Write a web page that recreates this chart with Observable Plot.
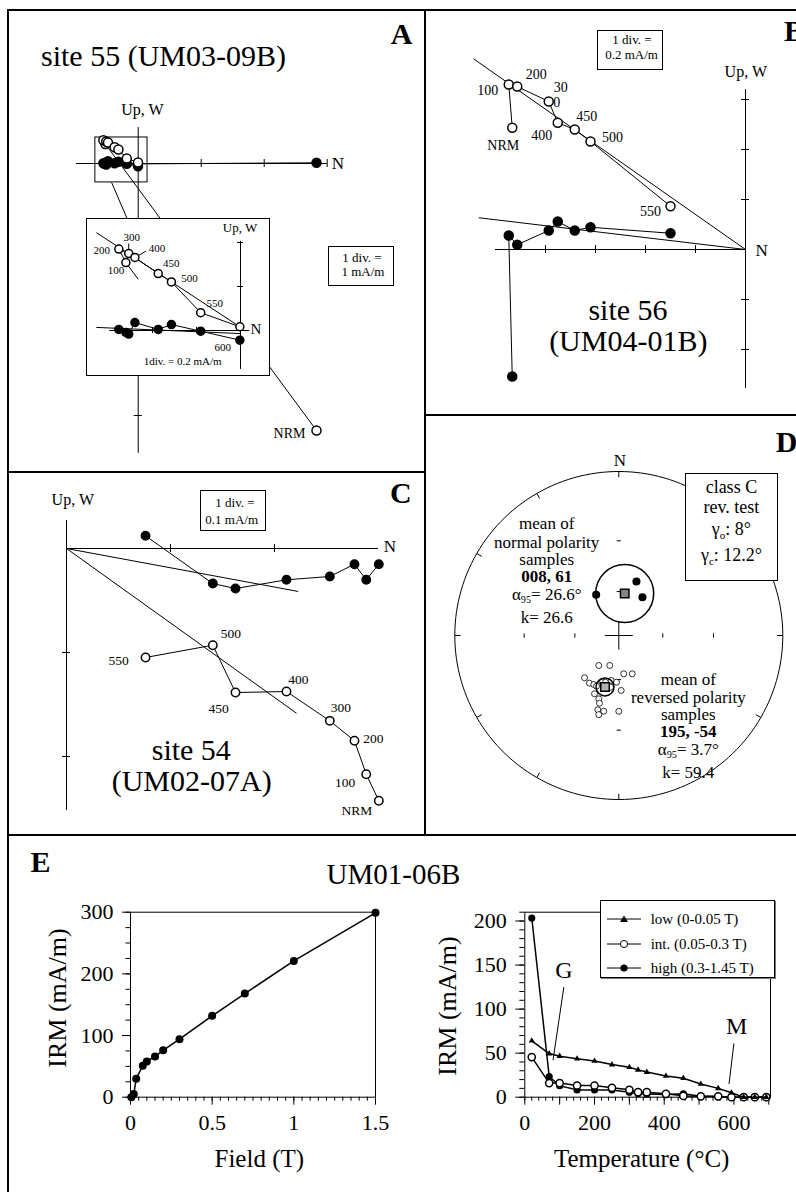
<!DOCTYPE html>
<html><head><meta charset="utf-8">
<script src="https://cdn.jsdelivr.net/npm/d3@7"></script>
<script src="https://cdn.jsdelivr.net/npm/@observablehq/plot@0.6"></script>
<style>
body{margin:0;background:#fff;}
#fig{position:relative;width:796px;height:1192px;overflow:hidden;background:#fff;font-family:"Liberation Serif","Times New Roman",serif;color:#000;}
.t{position:absolute;transform:translate(-50%,-50%);line-height:1;white-space:nowrap;font-family:"Liberation Serif",serif;}
.t sub{font-size:.6em;vertical-align:-.35em;line-height:0;}
.box{position:absolute;border:1px solid #000;background:#fff;box-sizing:border-box;}
.rule{position:absolute;background:#000;}
</style></head><body><div id="fig"></div><script>
// ================= DATA =================
// Panel A: site 55 (UM03-09B) - Zijderveld components in mA/m
const stepsA = ["NRM","100","200","300","400","450","500","550","600"];
const northA = [2.83,-0.521,-0.553,-0.508,-0.480,-0.374,-0.314,-0.181,-0.003];
const upA    = [-4.238,0.309,0.370,0.350,0.332,0.259,0.221,0.081,0.017];
const westA  = [0.011,-0.009,0.005,-0.016,0.036,0.005,0.027,-0.003,-0.044];
const fitUpA   = [[-0.655,0.445],[0,0.015]];
const fitWestA = [[-0.655,0.014],[0,-0.014]];
const nrmStubA = [[-0.521,0.309],[-0.465,0.233]];
const zoomWindowA = [[-0.68,0.413],[0.148,-0.30]];
const connectorA = [[-0.422,-0.302],[-0.17,-0.889]];

// Panel B: site 56 (UM04-01B)
const stepsB = ["NRM","100","200","300","400","450","500","550"];
const northB = [-0.933,-0.947,-0.913,-0.787,-0.751,-0.683,-0.620,-0.300];
const upB    = [0.487,0.660,0.652,0.592,0.507,0.480,0.432,0.173];
const westB  = [-0.508,0.056,0.019,0.076,0.112,0.076,0.089,0.065];
const fitUpB   = [[-1.088,0.763],[0,0]];
const fitWestB = [[-1.067,0.127],[0,0]];

// Panel C: site 54 (UM02-07A)
const stepsC = ["NRM","100","200","300","400","450","500","550"];
const northC = [0.3003,0.2882,0.2769,0.2532,0.2115,0.1625,0.1407,0.0760];
const upC    = [-0.2426,-0.2170,-0.1849,-0.1657,-0.1375,-0.1385,-0.0930,-0.1048];
const westC  = [-0.0151,-0.0301,-0.0151,-0.0269,-0.0301,-0.0385,-0.0337,0.0122];
const fitUpC   = [[0,0],[0.2212,-0.1584]];
const fitWestC = [[0,0],[0.2228,-0.0413]];

// Panel D: site mean directions (declination, inclination)
const decNormal = [330.9,18.1,31.7];
const incNormal = [58.3,51.8,59.3];
const decReversed = [213.7,196.7,172.6,160.7,219.0,211.6,207.0,203.7,199.6,195.9,189.6,182.8,177.5,202.6,197.5,195.9,195.8,194.2,191.2,180.0,192.8,189.1];
const incReversed = [-65.2,-68.4,-63.5,-62.2,-53.3,-52.3,-52.9,-52.7,-56.4,-57.0,-58.9,-58.2,-52.9,-47.9,-45.9,-43.5,-39.6,-37.1,-39.6,-40.4,-54.6,-54.6];
const meanNormal = {dec:8, inc:61, decText:"008", a95:26.6, k:26.6};
const meanReversed = {dec:195, inc:-54, decText:"195", a95:3.7, k:59.4};
const revTest = {cls:"C", gammaO:8, gammaC:12.2};

// Panel E: UM01-06B
const fieldT   = [0.005,0.02,0.035,0.075,0.1,0.15,0.2,0.3,0.5,0.7,1.0,1.5];
const irmField = [0,5,30,51,58,66,76,94,132,168,221,299];
const tempC   = [20,70,100,150,200,250,300,325,350,405,455,505,555,593,628,660,693];
const irmLow  = [64,49.5,46.6,43.6,41,37,34,31,28.5,24,21.6,15,10,5,0,0,0];
const irmInt  = [45.5,16,16,13.3,13.3,10.7,8.4,5.7,5.7,3.8,1.5,1,1,0,0,0,0];
const irmHigh = [203.4,23.5,13,8.3,8.3,8.3,5.7,3.8,3.5,3,3.8,1,0.5,0,0,0,0];
const seriesNames = ["low (0-0.05 T)","int. (0.05-0.3 T)","high (0.3-1.45 T)"];
const annotText = ["G","M"];
const annotT = [112,608];
const annotV = [144,80];
const leaders = [[112,125,81,42],[600,61,586,15]];

// ================= LAYOUT HELPERS =================
const serif = '"Liberation Serif","Times New Roman",serif';
const fig = document.getElementById("fig");
function put(node,left,top){node.style.position="absolute";node.style.left=left+"px";node.style.top=top+"px";fig.appendChild(node);return node;}
function txt(html,cx,cy,size,extra){const d=document.createElement("div");d.className="t";d.style.left=cx+"px";d.style.top=cy+"px";d.style.fontSize=size+"px";if(extra)d.style.cssText+=extra;d.innerHTML=html;fig.appendChild(d);return d;}
function boxDiv(x1,y1,x2,y2){const d=document.createElement("div");d.className="box";Object.assign(d.style,{left:x1+"px",top:y1+"px",width:(x2-x1)+"px",height:(y2-y1)+"px"});fig.appendChild(d);return d;}
function rule(x,y,w,h){const d=document.createElement("div");d.className="rule";Object.assign(d.style,{left:x+"px",top:y+"px",width:w+"px",height:h+"px"});fig.appendChild(d);}
const baseStyle = {background:"none",fontFamily:serif,overflow:"visible",color:"#000"};

// Zijderveld diagram
function zij(o){
  const all = o.steps.map((s,i)=>({step:s,n:o.north[i],up:o.up[i],w:o.west[i]}));
  const rows = all.filter(r=>!(o.omit||[]).includes(r.step));
  const by = new Map(all.map(r=>[r.step,r]));
  const t = o.tick/o.s;
  const lab = (o.labels||[]).map(([st,c,dx,dy,tx])=>{const r=by.get(st);return {x:r.n+dx/o.s,y:r[c]-dy/o.s,text:tx??st};});
  const lead = (o.leaders||[]).map(([st,c,a,b,e,f])=>{const r=by.get(st);return [[r.n+a/o.s,r[c]-b/o.s],[r.n+e/o.s,r[c]-f/o.s]];});
  const seg = {x1:d=>d[0][0],y1:d=>d[0][1],x2:d=>d[1][0],y2:d=>d[1][1],stroke:"#000",strokeWidth:1};
  const marks = [
    Plot.ruleY([0],{x1:()=>o.axisN[0],x2:()=>o.axisN[1],stroke:"#000"}),
    Plot.ruleX([0],{y1:()=>o.axisV[0],y2:()=>o.axisV[1],stroke:"#000"}),
    Plot.ruleX(o.ticksN,{x:d=>d,y1:()=>-t,y2:()=>t,stroke:"#000"}),
    Plot.ruleY(o.ticksV,{y:d=>d,x1:()=>-t,x2:()=>t,stroke:"#000"}),
    ...(o.extra||[]),
    Plot.link(o.fits,seg),
    Plot.link(lead,seg),
    Plot.line(rows,{x:"n",y:"w",stroke:"#000",strokeWidth:1}),
    Plot.line(rows,{x:"n",y:"up",stroke:"#000",strokeWidth:1}),
    Plot.dot(rows,{x:"n",y:"w",r:o.r,fill:"#000",stroke:"#000"}),
    Plot.dot(rows,{x:"n",y:"up",r:o.r,fill:"#fff",stroke:"#000"}),
    Plot.text(lab,{x:"x",y:"y",text:"text",fontSize:o.fontSize,fill:"#000",fontFamily:serif})
  ];
  return Plot.plot({width:o.w,height:o.h,margin:0,
    x:{domain:[-o.ox/o.s,(o.w-o.ox)/o.s],axis:null},
    y:{domain:[(o.oy-o.h)/o.s,o.oy/o.s],axis:null},
    style:baseStyle,marks});
}
const segOpt = {x1:d=>d[0][0],y1:d=>d[0][1],x2:d=>d[1][0],y2:d=>d[1][1],stroke:"#000"};

// ================= PANEL A =================
const aMain = zij({w:425,h:472,ox:137.7,oy:163,s:63,tick:4,r:4.5,fontSize:14,
  steps:stepsA,north:northA,up:upA,west:westA,fits:[],
  axisN:[-0.98,3.0],axisV:[-4.6,0.57],ticksN:[1,2,3],ticksV:[-1,-2,-3,-4],
  labels:[["NRM","up",-27,3]],
  extra:[
    Plot.rect([zoomWindowA],{x1:d=>d[0][0],x2:d=>d[1][0],y1:d=>d[1][1],y2:d=>d[0][1],fill:"none",stroke:"#000"}),
    Plot.link([connectorA],segOpt)
  ]});
put(aMain,0,0);

const insetDiv = document.createElement("div");
Object.assign(insetDiv.style,{width:"182px",height:"156px",background:"#fff",outline:"1.5px solid #000",overflow:"hidden"});
put(insetDiv,87,219);
const aInset = zij({w:182,h:156,ox:153,oy:111,s:220,tick:3,r:4,fontSize:11,
  steps:stepsA,north:northA,up:upA,west:westA,omit:["NRM"],fits:[fitUpA,fitWestA],
  axisN:[-0.594,0.042],axisV:[-0.177,0.405],ticksN:[-0.4,-0.2],ticksV:[0.2,0.4],
  labels:[["100","up",-10,8],["200","up",-17,1],["300","up",3,-16],["400","up",22,-9],["450","up",13,-10],["500","up",18,-3],["550","up",14,-9],["600","w",-17,7]],
  leaders:[["300","up",0,-10,0,-4.5],["400","up",11,-6.3,3.6,-2]],
  extra:[Plot.link([nrmStubA],segOpt)]});
aInset.style.display="block";
insetDiv.appendChild(aInset);

// ================= PANEL B =================
const bPlot = zij({w:371,h:415,ox:320,oy:249,s:250,tick:4,r:4.5,fontSize:14,
  steps:stepsB,north:northB,up:upB,west:westB,fits:[fitUpB,fitWestB],
  axisN:[-1.0,0],axisV:[-0.556,0.64],ticksN:[-0.2,-0.4,-0.6,-0.8],ticksV:[0.6,0.4,0.2,-0.2,-0.4],
  labels:[["100","up",-21,6],["200","up",19,-12],["300","up",12,-14,"30"],["300","up",8,1,"0"],["400","up",-16,13],["450","up",12,-13],["500","up",22,-4],["550","up",-20,5],["NRM","up",-9,18]]});
put(bPlot,425,0);

// ================= PANEL C =================
const cPlot = zij({w:425,h:363,ox:66,oy:76,s:1040,tick:4,r:4.2,fontSize:13.5,
  steps:stepsC,north:northC,up:upC,west:westC,fits:[fitUpC,fitWestC],
  axisN:[0,0.3],axisV:[-0.252,0.027],ticksN:[0.1,0.2],ticksV:[-0.1,-0.2],
  labels:[["500","up",18,-12],["550","up",-27,3],["400","up",12,-12],["450","up",-17,16],["300","up",11,-13],["200","up",19,-2],["100","up",-21,8],["NRM","up",-22,10]]});
put(cPlot,0,472);

// ================= PANEL D (stereographic net) =================
const rad = Math.PI/180;
const proj = (dec,inc)=>{const r=Math.tan((90-Math.abs(inc))*rad/2);return [r*Math.sin(dec*rad),r*Math.cos(dec*rad)];};
const normPts = decNormal.map((d,i)=>proj(d,incNormal[i]));
const revPts = decReversed.map((d,i)=>proj(d,incReversed[i]));
const mN = proj(meanNormal.dec,meanNormal.inc), mR = proj(meanReversed.dec,meanReversed.inc);
const rim = d3.range(0,361,2).map(a=>[Math.sin(a*rad),Math.cos(a*rad)]);
const rimTicks = d3.range(0,360,30).map(a=>{const s=Math.sin(a*rad),c=Math.cos(a*rad);return [[s,c],[0.965*s,0.965*c]];});
const dashes = [];
for (const rho of [Math.tan(15*rad),Math.tan(30*rad)]) for (const a of [0,90,180,270]) {
  const s=Math.sin(a*rad),c=Math.cos(a*rad),h=0.013;
  dashes.push([[rho*s-h*c,rho*c+h*s],[rho*s+h*c,rho*c-h*s]]);
}
const cross = [[[-0.085,0],[0.085,0]],[[0,-0.085],[0,0.085]]];
const dcx=193.3, dcy=220, dR=164;
const xy = {x:d=>d[0],y:d=>d[1]};
const dPlot = Plot.plot({width:371,height:415,margin:0,
  x:{domain:[-1,1],range:[dcx-dR,dcx+dR],axis:null},
  y:{domain:[-1,1],range:[dcy+dR,dcy-dR],axis:null},
  style:baseStyle,
  marks:[
    Plot.line(rim,{...xy,stroke:"#000",strokeWidth:1}),
    Plot.link(rimTicks,segOpt),
    Plot.link(dashes,segOpt),
    Plot.link(cross,segOpt),
    Plot.dot([mN],{...xy,r:29,fill:"none",stroke:"#000"}),
    Plot.dot(normPts,{...xy,r:3.3,fill:"#000",stroke:"#000"}),
    Plot.dot(revPts,{...xy,r:3,fill:"#fff",stroke:"#000",strokeWidth:0.8}),
    Plot.dot([mR],{...xy,r:9,fill:"none",stroke:"#000"}),
    Plot.dot([mN],{...xy,symbol:"square",r:4.8,fill:"#858585",stroke:"#000"}),
    Plot.dot([mR],{...xy,symbol:"square",r:4.8,fill:"#b0b0b0",stroke:"#000"})
  ]});
put(dPlot,425,415);

// ================= PANEL E =================
const fieldRows = fieldT.map((t,i)=>({t,v:irmField[i]}));
const eLeft = Plot.plot({width:360,height:300,marginLeft:90,marginRight:25,marginTop:21.7,marginBottom:93.3,
  x:{domain:[0,1.5]},y:{domain:[0,300]},style:baseStyle,
  marks:[
    Plot.frame({stroke:"#000"}),
    Plot.axisY({ticks:d3.range(0,301,25),tickSize:4.5,tickFormat:()=>"",label:null}),
    Plot.axisY({ticks:[0,100,200,300],tickSize:8,tickPadding:9,fontSize:22,fontFamily:serif,label:null}),
    Plot.axisX({ticks:d3.range(0,31).map(i=>i*0.05),tickSize:4,tickFormat:()=>"",label:null}),
    Plot.axisX({ticks:[0,0.5,1,1.5],tickSize:8,tickPadding:9,fontSize:22,fontFamily:serif,label:null,tickFormat:d=>String(d)}),
    Plot.line(fieldRows,{x:"t",y:"v",stroke:"#000"}),
    Plot.dot(fieldRows,{x:"t",y:"v",r:4,fill:"#000"})
  ]});
put(eLeft,40,890);

const tRows = tempC.map((t,i)=>({t,low:irmLow[i],int:irmInt[i],high:irmHigh[i]}));
const annRows = annotText.map((s,i)=>({s,t:annotT[i],v:annotV[i]}));
const eRight = Plot.plot({width:386,height:300,marginLeft:114.3,marginRight:26,marginTop:21.7,marginBottom:93.3,
  x:{domain:[0,705]},y:{domain:[0,210]},style:baseStyle,
  marks:[
    Plot.frame({stroke:"#000"}),
    Plot.axisY({ticks:d3.range(0,211,10),tickSize:5,tickFormat:()=>"",label:null}),
    Plot.axisY({ticks:[0,50,100,150,200],tickSize:9,tickPadding:9,fontSize:22,fontFamily:serif,label:null}),
    Plot.axisX({ticks:d3.range(0,701,20),tickSize:4,tickFormat:()=>"",label:null}),
    Plot.axisX({ticks:d3.range(0,701,100),tickSize:8,tickPadding:9,fontSize:22,fontFamily:serif,label:null,tickFormat:d=>d%200===0?String(d):""}),
    Plot.link(leaders,{x1:d=>d[0],y1:d=>d[1],x2:d=>d[2],y2:d=>d[3],stroke:"#000"}),
    Plot.text(annRows,{x:"t",y:"v",text:"s",fontSize:24,fill:"#000",fontFamily:serif}),
    Plot.line(tRows,{x:"t",y:"high",stroke:"#000"}),
    Plot.dot(tRows,{x:"t",y:"high",r:3.6,fill:"#000"}),
    Plot.line(tRows,{x:"t",y:"int",stroke:"#000"}),
    Plot.dot(tRows,{x:"t",y:"int",r:3.6,fill:"#fff",stroke:"#000"}),
    Plot.line(tRows,{x:"t",y:"low",stroke:"#000"}),
    Plot.dot(tRows,{x:"t",y:"low",symbol:"triangle",r:2.3,fill:"#000"})
  ]});
put(eRight,410,890);

// legend
const lg = boxDiv(600,900,775,978);
lg.style.boxShadow="1px 1px 0 #777";
const icons = [
  '<polygon points="17,2.5 21,9 13,9" fill="#000"/>',
  '<circle cx="17" cy="6" r="3.6" fill="#fff" stroke="#000"/>',
  '<circle cx="17" cy="6" r="3.6" fill="#000"/>'
];
const rowY = [17.7,43.3,66.7];
seriesNames.forEach((name,i)=>{
  const ic=document.createElement("div");
  ic.innerHTML='<svg width="34" height="12" style="display:block"><line x1="0" y1="6" x2="34" y2="6" stroke="#000"/>'+icons[i]+'</svg>';
  Object.assign(ic.style,{position:"absolute",left:"5.7px",top:(rowY[i]-6)+"px"});
  lg.appendChild(ic);
  const tx=document.createElement("div");
  Object.assign(tx.style,{position:"absolute",left:"49.7px",top:(rowY[i]-8)+"px",fontSize:"15px",lineHeight:"16px",whiteSpace:"nowrap",fontFamily:serif});
  tx.textContent=name;lg.appendChild(tx);
});

// ================= TEXT ANNOTATIONS =================
// A
txt("A",401.5,34,30,"font-weight:bold");
txt("site 55 (UM03-09B)",163.5,56,30);
txt("Up, W",142.5,110,16);
txt("N",338,162.5,17);
boxDiv(328.3,245.7,394,286);
txt("1 div. =",362,257,13); txt("1 mA/m",363,271,13);
txt("Up, W",240,227,13);
txt("N",256,329,15);
txt("1div. = 0.2 mA/m",182.7,360.7,11);
// B
txt("B",794,31,30,"font-weight:bold");
boxDiv(597.3,30,662.7,70);
txt("1 div. =",632,38.5,13); txt("0.2 mA/m",631.5,54,13);
txt("Up, W",745.8,71.7,16);
txt("N",761.7,250,17);
txt("site 56",628,310,30);
txt("(UM04-01B)",628.3,340.8,30);
// C
txt("C",400.8,493,30,"font-weight:bold");
boxDiv(200,490.3,265.7,531.3);
txt("1 div. =",235,502,13); txt("0.1 mA/m",231.7,519,13);
txt("Up, W",72.8,500,16);
txt("N",390,546,17);
txt("site 54",191.3,750.3,30);
txt("(UM02-07A)",191.7,781,30);
// D
txt("D",786.5,441.7,30,"font-weight:bold");
txt("N",620,460,17);
const fmtDir=m=>m.decText+", "+m.inc;
txt("mean of",546.7,523.3,17); txt("normal polarity",546.7,541.7,17); txt("samples",546.7,559,17);
txt("<b>"+fmtDir(meanNormal)+"</b>",546.7,575.7,17);
txt("α<sub>95</sub>= "+meanNormal.a95+"°",546.7,594,17);
txt("k= "+meanNormal.k,546.7,616.7,17);
txt("mean of",688.3,679.3,17); txt("reversed polarity",688.3,696.7,17); txt("samples",688.3,714,17);
txt("<b>"+fmtDir(meanReversed)+"</b>",688.3,731,17);
txt("α<sub>95</sub>= "+meanReversed.a95+"°",688.3,748.5,17);
txt("k= "+meanReversed.k,688.3,771.7,17);
boxDiv(685,472.7,777.7,581);
txt("class "+revTest.cls,731.4,486.7,18); txt("rev. test",731.4,506.7,18);
txt("γ<sub>o</sub>: "+revTest.gammaO+"°",731.4,529,18);
txt("γ<sub>c</sub>: "+revTest.gammaC+"°",731.4,555,18);
// E
txt("E",40.5,861.7,30,"font-weight:bold");
txt("UM01-06B",393.4,874,29);
txt("Field (T)",259.3,1158.3,25);
txt("Temperature (°C)",641.7,1158.3,25);
txt("IRM (mA/m)",58.3,998.3,26,"transform:translate(-50%,-50%) rotate(-90deg)");
txt("IRM (mA/m)",448.3,1006,26,"transform:translate(-50%,-50%) rotate(-90deg)");

// ================= FRAME =================
rule(7,9,789,2);
rule(7,9,2,1183);
rule(424,9,2,826);
rule(7,471,418,2);
rule(424,414,372,2);
rule(7,834,789,2);
</script></body></html>
